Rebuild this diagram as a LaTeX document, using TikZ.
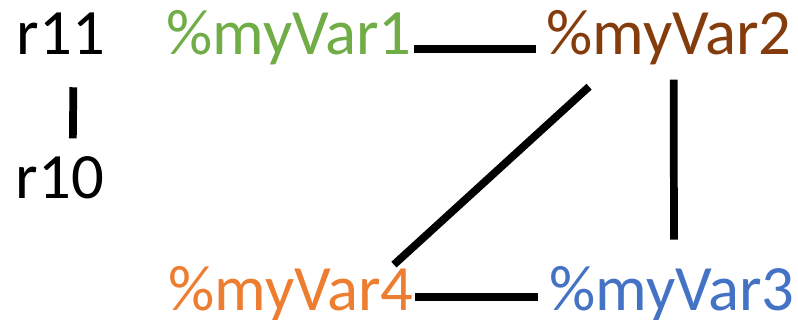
\documentclass[tikz,border=0pt]{standalone}
\usepackage{fontspec}
\setmainfont{Carlito}
\definecolor{vargreen}{HTML}{70AD47}
\definecolor{varbrown}{HTML}{843C0C}
\definecolor{varorange}{HTML}{ED7D31}
\definecolor{varblue}{HTML}{4472C4}

\begin{document}
\begin{tikzpicture}[x=0.75pt,y=-0.75pt,
   lbl/.style={inner sep=0pt,anchor=base,font=\fontsize{48.5}{58}\selectfont},
   conn/.style={line width=5.8pt}]
   \useasboundingbox (0,0) rectangle (798,320);
   \node[lbl] (r11) at (61,55) {r11};
   \node[lbl] (r10) at (60,199) {r10};
   \node[lbl,text=vargreen] (var1) at (289,55) {\%myVar1};
   \node[lbl,text=varbrown] (var2) at (669,55) {\%myVar2};
   \node[lbl,text=varblue] (var3) at (672,310) {\%myVar3};
   \node[lbl,text=varorange] (var4) at (291,310) {\%myVar4};
   \path[conn]
    ([xshift=9.5pt]r11.south) edge [shorten <=24pt,shorten >=13.75pt] ([xshift=9.5pt]r10.north)
    ([yshift=-8.25pt]var1.east) edge [shorten <=1.5pt,shorten >=7.5pt] ([yshift=-8.25pt]var2.west)
    ([xshift=3.5pt]var2.south) edge [shorten <=10.5pt,shorten >=19.5pt] ([xshift=1.5pt]var3.north)
    ([shift={(43,21)}]var2.south west) edge ([shift={(-20,-1)}]var4.north east)
    ([yshift=-2.75pt]var4.east) edge [shorten <=1pt,shorten >=8.5pt] ([yshift=-2.75pt]var3.west);
\end{tikzpicture}
\end{document}
